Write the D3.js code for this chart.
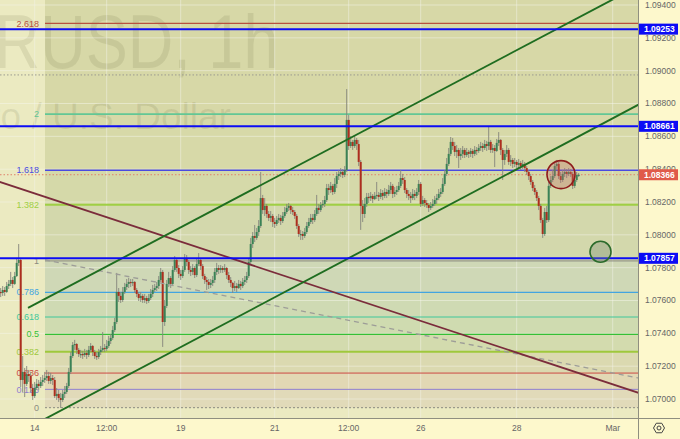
<!DOCTYPE html>
<html><head><meta charset="utf-8">
<script src="https://cdn.jsdelivr.net/npm/d3@7"></script>
<style>body{margin:0;background:#fdf8cc}svg{display:block}</style>
</head><body><svg id="c" width="680" height="439"></svg>
<script>
// ---------- DATA ----------
const startIndex = -17;          // hourly candle index (0 = 14 Feb 00:00)
const firstOpen = 1.07652;
const closes = [
1.07646,1.07664,1.07652,1.07688,1.07701,1.07725,1.07701,1.07749,1.07829,1.07847,
1.07116,1.07165,1.07092,1.07152,1.07140,1.07067,1.07018,1.07067,1.07092,1.07079,
1.07104,1.07116,1.07128,1.07140,1.07110,1.07128,1.07116,1.07018,1.07031,1.07006,
1.06994,1.07031,1.07043,1.07079,1.07165,1.07262,1.07329,1.07335,1.07299,1.07274,
1.07274,1.07268,1.07280,1.07268,1.07299,1.07323,1.07286,1.07262,1.07256,1.07286,
1.07299,1.07311,1.07305,1.07323,1.07353,1.07372,1.07420,1.07469,1.07652,1.07628,
1.07603,1.07652,1.07682,1.07701,1.07713,1.07707,1.07713,1.07664,1.07640,1.07615,
1.07628,1.07603,1.07615,1.07597,1.07615,1.07640,1.07664,1.07676,1.07688,1.07725,
1.07774,1.07469,1.07567,1.07701,1.07737,1.07701,1.07786,1.07847,1.07798,1.07762,
1.07749,1.07786,1.07859,1.07835,1.07786,1.07774,1.07798,1.07755,1.07822,1.07847,
1.07810,1.07749,1.07725,1.07713,1.07695,1.07707,1.07725,1.07774,1.07798,1.07786,
1.07798,1.07786,1.07798,1.07755,1.07725,1.07707,1.07676,1.07688,1.07676,1.07701,
1.07688,1.07713,1.07725,1.07749,1.07835,1.07944,1.07993,1.07981,1.08017,1.08054,
1.08224,1.08151,1.08176,1.08127,1.08103,1.08115,1.08078,1.08066,1.08090,1.08103,
1.08084,1.08115,1.08139,1.08164,1.08176,1.08151,1.08139,1.08115,1.08054,1.08005,
1.08005,1.07993,1.08017,1.08054,1.08078,1.08103,1.08090,1.08127,1.08164,1.08151,
1.08182,1.08188,1.08212,1.08285,1.08273,1.08298,1.08261,1.08310,1.08358,1.08371,
1.08383,1.08365,1.08395,1.08700,1.08541,1.08566,1.08541,1.08578,1.08553,1.08444,
1.08176,1.08127,1.08188,1.08231,1.08224,1.08237,1.08218,1.08237,1.08243,1.08231,
1.08255,1.08237,1.08261,1.08249,1.08273,1.08298,1.08249,1.08261,1.08273,1.08298,
1.08346,1.08334,1.08273,1.08249,1.08237,1.08224,1.08249,1.08237,1.08261,1.08310,
1.08188,1.08212,1.08194,1.08182,1.08164,1.08176,1.08188,1.08212,1.08224,1.08249,
1.08261,1.08310,1.08371,1.08432,1.08493,1.08566,1.08541,1.08505,1.08517,1.08480,
1.08493,1.08517,1.08486,1.08505,1.08493,1.08511,1.08493,1.08517,1.08511,1.08529,
1.08541,1.08529,1.08553,1.08541,1.08566,1.08517,1.08529,1.08511,1.08560,1.08578,
1.08517,1.08456,1.08493,1.08517,1.08444,1.08456,1.08432,1.08444,1.08426,1.08438,
1.08419,1.08432,1.08407,1.08383,1.08358,1.08322,1.08285,1.08261,1.08224,1.08176,
1.08090,1.08005,1.08139,1.08090,1.08298,1.08334,1.08358,1.08419,1.08432,1.08358,
1.08334,1.08371,1.08383,1.08371,1.08383,1.08371,1.08298,1.08334,1.08365,1.08366];
const highs = [
1.07676,1.07688,1.07682,1.07713,1.07725,1.07774,1.07743,1.07774,1.07859,1.07944,
1.07859,1.07262,1.07189,1.07201,1.07177,1.07165,1.07092,1.07104,1.07122,1.07116,
1.07134,1.07146,1.07165,1.07177,1.07165,1.07159,1.07146,1.07134,1.07067,1.07055,
1.07037,1.07055,1.07079,1.07098,1.07189,1.07286,1.07347,1.07360,1.07341,1.07311,
1.07299,1.07293,1.07305,1.07299,1.07323,1.07341,1.07329,1.07299,1.07286,1.07305,
1.07323,1.07408,1.07335,1.07360,1.07384,1.07396,1.07445,1.07494,1.07768,1.07676,
1.07652,1.07682,1.07707,1.07731,1.07737,1.07731,1.07731,1.07719,1.07676,1.07652,
1.07652,1.07640,1.07640,1.07628,1.07640,1.07670,1.07695,1.07701,1.07713,1.07749,
1.07798,1.07786,1.07603,1.07725,1.07774,1.07749,1.07810,1.07871,1.07859,1.07816,
1.07786,1.07810,1.07883,1.07877,1.07847,1.07810,1.07822,1.07810,1.07859,1.07889,
1.07859,1.07822,1.07762,1.07743,1.07731,1.07731,1.07749,1.07798,1.07829,1.07816,
1.07816,1.07810,1.07822,1.07804,1.07774,1.07743,1.07713,1.07719,1.07707,1.07725,
1.07719,1.07737,1.07749,1.07774,1.07859,1.07981,1.08017,1.08060,1.08042,1.08090,
1.08383,1.08243,1.08224,1.08188,1.08145,1.08145,1.08127,1.08103,1.08115,1.08127,
1.08121,1.08139,1.08170,1.08188,1.08194,1.08182,1.08170,1.08151,1.08127,1.08066,
1.08030,1.08023,1.08042,1.08078,1.08103,1.08127,1.08127,1.08151,1.08243,1.08188,
1.08200,1.08212,1.08237,1.08310,1.08310,1.08322,1.08310,1.08346,1.08383,1.08395,
1.08407,1.08401,1.08419,1.08888,1.08730,1.08602,1.08578,1.08602,1.08590,1.08578,
1.08456,1.08212,1.08224,1.08255,1.08255,1.08261,1.08249,1.08261,1.08322,1.08261,
1.08279,1.08273,1.08285,1.08279,1.08304,1.08322,1.08310,1.08291,1.08298,1.08322,
1.08395,1.08371,1.08352,1.08285,1.08273,1.08261,1.08279,1.08273,1.08285,1.08334,
1.08322,1.08237,1.08224,1.08212,1.08194,1.08200,1.08218,1.08237,1.08249,1.08279,
1.08285,1.08346,1.08395,1.08468,1.08529,1.08596,1.08590,1.08566,1.08547,1.08529,
1.08529,1.08541,1.08529,1.08529,1.08517,1.08529,1.08523,1.08541,1.08535,1.08553,
1.08566,1.08560,1.08578,1.08572,1.08657,1.08578,1.08553,1.08547,1.08584,1.08626,
1.08584,1.08529,1.08517,1.08547,1.08529,1.08486,1.08468,1.08468,1.08456,1.08462,
1.08450,1.08456,1.08444,1.08419,1.08395,1.08371,1.08334,1.08304,1.08273,1.08237,
1.08188,1.08103,1.08164,1.08176,1.08322,1.08358,1.08395,1.08444,1.08456,1.08444,
1.08383,1.08395,1.08407,1.08401,1.08407,1.08401,1.08383,1.08358,1.08383,1.08377];
const lows = [
1.07621,1.07628,1.07628,1.07646,1.07670,1.07688,1.07676,1.07695,1.07743,1.07810,
1.07073,1.07043,1.07012,1.07079,1.07104,1.07043,1.06994,1.07006,1.07055,1.07055,
1.07067,1.07079,1.07098,1.07110,1.07092,1.07092,1.07085,1.07006,1.06994,1.06982,
1.06945,1.06982,1.07006,1.07031,1.07067,1.07152,1.07250,1.07299,1.07274,1.07256,
1.07250,1.07244,1.07256,1.07244,1.07256,1.07286,1.07262,1.07244,1.07238,1.07244,
1.07268,1.07286,1.07286,1.07293,1.07311,1.07335,1.07360,1.07408,1.07457,1.07591,
1.07585,1.07591,1.07640,1.07664,1.07676,1.07682,1.07688,1.07646,1.07621,1.07597,
1.07591,1.07585,1.07585,1.07579,1.07585,1.07603,1.07621,1.07652,1.07658,1.07670,
1.07713,1.07317,1.07445,1.07554,1.07682,1.07676,1.07688,1.07774,1.07774,1.07737,
1.07725,1.07737,1.07774,1.07810,1.07762,1.07749,1.07755,1.07737,1.07743,1.07810,
1.07786,1.07731,1.07701,1.07664,1.07670,1.07676,1.07688,1.07707,1.07755,1.07762,
1.07768,1.07768,1.07774,1.07731,1.07707,1.07682,1.07646,1.07658,1.07652,1.07670,
1.07664,1.07676,1.07695,1.07707,1.07737,1.07822,1.07920,1.07956,1.07969,1.07993,
1.08042,1.08127,1.08115,1.08103,1.08084,1.08078,1.08048,1.08042,1.08054,1.08072,
1.08060,1.08072,1.08103,1.08127,1.08145,1.08127,1.08121,1.08097,1.08036,1.07987,
1.07969,1.07969,1.07981,1.08005,1.08042,1.08066,1.08066,1.08078,1.08115,1.08127,
1.08139,1.08164,1.08170,1.08200,1.08243,1.08255,1.08243,1.08249,1.08285,1.08334,
1.08352,1.08346,1.08352,1.08383,1.08517,1.08529,1.08517,1.08529,1.08517,1.08419,
1.08030,1.08078,1.08103,1.08170,1.08194,1.08206,1.08194,1.08212,1.08218,1.08206,
1.08218,1.08212,1.08224,1.08224,1.08237,1.08249,1.08224,1.08231,1.08243,1.08261,
1.08285,1.08310,1.08255,1.08224,1.08212,1.08194,1.08212,1.08212,1.08224,1.08243,
1.08170,1.08176,1.08170,1.08164,1.08139,1.08151,1.08164,1.08176,1.08188,1.08212,
1.08231,1.08249,1.08298,1.08358,1.08419,1.08480,1.08517,1.08480,1.08468,1.08407,
1.08456,1.08468,1.08468,1.08474,1.08468,1.08474,1.08468,1.08480,1.08486,1.08499,
1.08511,1.08505,1.08517,1.08511,1.08517,1.08499,1.08499,1.08413,1.08505,1.08541,
1.08486,1.08334,1.08426,1.08474,1.08426,1.08419,1.08407,1.08413,1.08407,1.08407,
1.08395,1.08401,1.08383,1.08365,1.08334,1.08304,1.08267,1.08243,1.08206,1.08151,
1.08072,1.07981,1.07993,1.08072,1.08078,1.08285,1.08322,1.08346,1.08395,1.08340,
1.08316,1.08322,1.08352,1.08346,1.08358,1.08352,1.08279,1.08285,1.08322,1.08352];

const xTickIndex  = [0, 36, 73, 120, 157, 193, 241, 289];
const xTickLabels = ["14", "12:00", "19", "21", "12:00", "26", "28", "Mar"];
const priceTicks  = [1.070, 1.072, 1.074, 1.076, 1.078, 1.080, 1.082, 1.084, 1.086, 1.088, 1.090, 1.092, 1.094];

const fibLevels = [0, 0.125, 0.236, 0.382, 0.5, 0.618, 0.786, 1, 1.382, 1.618, 2, 2.618];
const fibLabels = ["0", "0.125", "0.236", "0.382", "0.5", "0.618", "0.786", "1", "1.382", "1.618", "2", "2.618"];
const fibPrice0 = 1.06947, fibPrice1 = 1.07841, fibStartIndex = 5.15;

const hLevels   = [1.09253, 1.08661, 1.07857];
const lastPrice = 1.08366;
const greyLevel = 1.08974;
const channelUpper = [[-3.35, 1.07555], [288.65, 1.09431]];
const channelLower = [[6.15, 1.06885], [301.65, 1.08791]];
const trendDown    = [[-17.35, 1.08322], [301.65, 1.07039]];
const dashedLine   = [[5.15, 1.07847], [301.65, 1.07128]];
const markRed   = [263.15, 1.08367];
const markGreen = [282.9, 1.07897];

// ---------- STYLES ----------
const fibColors = ["#8a8a80","#8f7fd0","#cc4a44","#9fc83c","#35c035","#3fc89a","#42a5e0","#8a8a80","#9fcf45","#4a4ae0","#62c795","#b8503f"];
const fibWidths = [1,1,1,2,1.2,1,1.3,1,2,1.3,1.6,1.2];
const zoneFills = ["#e1dab9","#e2d8b4","#dbd9b0","#d3dbae","#cfdbb0","#cfdab3","#cfd8b6","#d3d8ac","#d5d9a9","#d7d9a8","#d7d8a7"];
const FONT = "'Liberation Sans', Arial, sans-serif";

// ---------- SCALES ----------
const W = 680, H = 439, PR = 638.5, PB = 418.5;
const x = d3.scaleLinear().domain([0, 289]).range([34.7, 612.7]);
const y = d3.scaleLinear().domain([1.070, 1.094]).range([399, 5]);
const fib = d3.scaleLinear().domain([0, 1]).range([fibPrice0, fibPrice1]);

const svg = d3.select("#c");
svg.append("rect").attr("width", W).attr("height", H).attr("fill", "#fdf8cc");
svg.append("defs").append("clipPath").attr("id", "pc")
  .append("rect").attr("width", PR).attr("height", PB);
const plot = svg.append("g").attr("clip-path", "url(#pc)");
plot.append("rect").attr("width", PR).attr("height", PB).attr("fill", "#ebeac1");

// fib zones
const fx0 = x(fibStartIndex);
fibLevels.slice(0, -1).forEach((lv, k) => {
  const yTop = y(fib(fibLevels[k + 1])), yBot = y(fib(lv));
  plot.append("rect").attr("x", fx0).attr("width", PR - fx0)
    .attr("y", yTop).attr("height", yBot - yTop).attr("fill", zoneFills[k]);
});
plot.append("rect").attr("x", fx0).attr("width", PR - fx0).attr("y", 0)
  .attr("height", y(fib(2.618))).attr("fill", zoneFills[zoneFills.length - 1]);

// watermark
plot.append("text").attr("transform", "translate(-93,68) scale(0.83,1)")
  .attr("font-family", FONT).attr("font-size", 76).attr("fill", "rgba(90,90,50,0.12)")
  .text("EURUSD, 1h");
plot.append("text").attr("transform", "translate(-57,129)")
  .attr("font-family", FONT).attr("font-size", 37).attr("fill", "rgba(90,90,50,0.12)")
  .text("Euro / U.S. Dollar");

// grid
plot.selectAll(".vg").data(xTickIndex).join("line")
  .attr("x1", d => x(d)).attr("x2", d => x(d)).attr("y1", 0).attr("y2", PB)
  .attr("stroke", "rgba(245,245,235,0.5)").attr("stroke-width", 1);
plot.selectAll(".hg").data(priceTicks).join("line")
  .attr("x1", 0).attr("x2", PR).attr("y1", d => y(d)).attr("y2", d => y(d))
  .attr("stroke", "rgba(245,245,235,0.5)").attr("stroke-width", 1);

// fib lines and labels
fibLevels.forEach((lv, k) => {
  const yy = y(fib(lv));
  const ln = plot.append("line").attr("x1", fx0).attr("x2", PR).attr("y1", yy).attr("y2", yy)
    .attr("stroke", fibColors[k]).attr("stroke-width", fibWidths[k]);
  if (lv === 0) ln.attr("stroke-dasharray", "2,2");
  plot.append("text").attr("x", 39).attr("y", yy).attr("dy", "0.35em")
    .attr("text-anchor", "end").attr("font-family", FONT).attr("font-size", 9)
    .attr("fill", fibColors[k]).text(fibLabels[k]);
});

// grey dotted level and current price line
plot.append("line").attr("x1", 0).attr("x2", PR).attr("y1", y(greyLevel)).attr("y2", y(greyLevel))
  .attr("stroke", "#9a9a90").attr("stroke-dasharray", "1.5,2").attr("stroke-width", 1);
plot.append("line").attr("x1", 0).attr("x2", PR).attr("y1", y(lastPrice)).attr("y2", y(lastPrice))
  .attr("stroke", "#e0806a").attr("stroke-dasharray", "1.5,2").attr("stroke-width", 1);

// candles
const candles = closes.map((c, k) => {
  const o = k ? closes[k - 1] : firstOpen;
  return { i: startIndex + k, o, c, h: Math.max(highs[k], o, c), l: Math.min(lows[k], o, c) };
});
const cg = plot.append("g");
cg.selectAll(".wk").data(candles).join("line")
  .attr("x1", d => x(d.i)).attr("x2", d => x(d.i))
  .attr("y1", d => y(d.h)).attr("y2", d => y(d.l))
  .attr("stroke", "#85857c").attr("stroke-width", 0.9);
cg.selectAll(".bd").data(candles).join("rect")
  .attr("x", d => x(d.i) - 1).attr("width", 2)
  .attr("y", d => y(Math.max(d.o, d.c)))
  .attr("height", d => Math.max(1.2, Math.abs(y(d.o) - y(d.c))))
  .attr("fill", d => d.c >= d.o ? "#3a8256" : "#ad2e1e");

// helper: line through two data points, extended between two indices
function drawLine(pts, color, width, dash, i0, i1) {
  const [a, b] = pts;
  const slope = (b[1] - a[1]) / (b[0] - a[0]);
  const l = plot.append("line")
    .attr("x1", x(i0)).attr("y1", y(a[1] + slope * (i0 - a[0])))
    .attr("x2", x(i1)).attr("y2", y(a[1] + slope * (i1 - a[0])))
    .attr("stroke", color).attr("stroke-width", width);
  if (dash) l.attr("stroke-dasharray", dash);
}
drawLine(dashedLine, "#9d9d98", 1.3, "5,4", dashedLine[0][0], 310);
drawLine(trendDown, "#7b2c3b", 1.8, null, -25, 310);
drawLine(channelUpper, "#1f6d20", 1.9, null, channelUpper[0][0], 310);
drawLine(channelLower, "#1f6d20", 1.9, null, -10, 310);

// horizontal blue levels
plot.selectAll(".hl").data(hLevels).join("line")
  .attr("x1", 0).attr("x2", PR).attr("y1", d => y(d)).attr("y2", d => y(d))
  .attr("stroke", "#0c0cf5").attr("stroke-width", 2);

// circles
plot.append("circle").attr("cx", x(markRed[0])).attr("cy", y(markRed[1])).attr("r", 14)
  .attr("fill", "rgba(190,105,105,0.32)").attr("stroke", "#8e1c1c").attr("stroke-width", 1.6);
plot.append("circle").attr("cx", x(markGreen[0])).attr("cy", y(markGreen[1])).attr("r", 10.5)
  .attr("fill", "rgba(120,140,115,0.35)").attr("stroke", "#2b6b2b").attr("stroke-width", 1.6);

// axes borders
svg.append("line").attr("x1", PR).attr("x2", PR).attr("y1", 0).attr("y2", H).attr("stroke", "#8f8f80");
svg.append("line").attr("x1", 0).attr("x2", W).attr("y1", PB).attr("y2", PB).attr("stroke", "#8f8f80");

// price axis labels
svg.selectAll(".pt").data(priceTicks).join("text")
  .attr("x", 645).attr("y", d => y(d)).attr("dy", "0.35em")
  .attr("font-family", FONT).attr("font-size", 8.5).attr("fill", "#666")
  .text(d => d.toFixed(5));

// price boxes
const boxes = hLevels.map(p => ({ p, col: "#0c0cf5" })).concat([{ p: lastPrice, col: "#e05a4a" }]);
boxes.forEach(b => {
  svg.append("rect").attr("x", 639).attr("y", y(b.p) - 5.5).attr("width", 39).attr("height", 11)
    .attr("fill", b.col);
  svg.append("text").attr("x", 644).attr("y", y(b.p)).attr("dy", "0.35em")
    .attr("font-family", FONT).attr("font-size", 8.5).attr("font-weight", "bold")
    .attr("fill", "#fff").text(b.p.toFixed(5));
});

// time axis labels
svg.selectAll(".xt").data(xTickIndex).join("text")
  .attr("x", d => x(d)).attr("y", 428).attr("dy", "0.35em").attr("text-anchor", "middle")
  .attr("font-family", FONT).attr("font-size", 8.5).attr("fill", "#666")
  .text((d, k) => xTickLabels[k]);

// settings icon
const hex = d3.range(6).map(k => [659 + 5.5 * Math.cos(k * Math.PI / 3), 428 + 5.5 * Math.sin(k * Math.PI / 3)]);
svg.append("polygon").attr("points", hex.map(p => p.join(",")).join(" "))
  .attr("fill", "none").attr("stroke", "#444").attr("stroke-width", 1);
svg.append("circle").attr("cx", 659).attr("cy", 428).attr("r", 2).attr("fill", "none")
  .attr("stroke", "#444").attr("stroke-width", 1);
</script></body></html>
